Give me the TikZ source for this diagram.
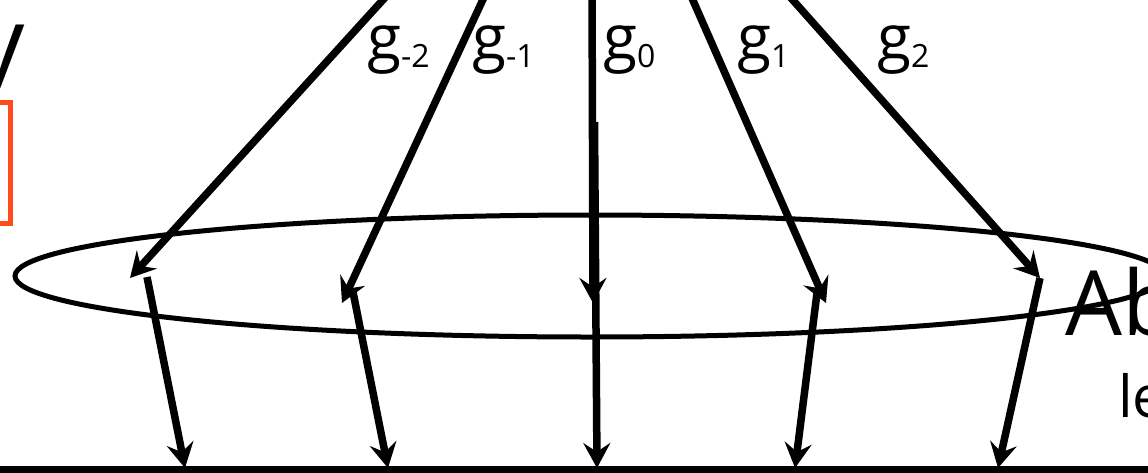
\documentclass[tikz,border=0pt]{standalone}
\usepackage{fontspec}
\setmainfont{Open Sans}
\usetikzlibrary{arrows.meta}
\definecolor{boxorange}{HTML}{FF4A1C}
\newcommand{\gsub}[1]{g{\fontsize{32}{32}\selectfont\raisebox{-8pt}{#1}}}

\begin{document}
\begin{tikzpicture}[x=1pt, y=-1pt,
    gen/.style={line width=7.5pt, -{Stealth[length=25pt, width=27pt, inset=9pt]}},
    lab/.style={anchor=base west, inner sep=0pt, font=\fontsize{62}{62}\selectfont}]
    \useasboundingbox (0,0) rectangle (1148,472);
    \clip (0,0) rectangle (1148,472);
    % sources above the frame, tips on the orbit, feet on the base line
    \coordinate (srcm2) at (401,-20); \coordinate (srcm1) at (492,-20); \coordinate (srcz) at (592,-20);
    \coordinate (srcp1) at (684,-20); \coordinate (srcp2) at (775,-20);
    \coordinate (tipm2) at (130,278); \coordinate (tipm1) at (342,303); \coordinate (tipz) at (593,303);
    \coordinate (tipp1) at (826,303); \coordinate (tipp2) at (1040,278);
    \coordinate (orbm2) at (147,277); \coordinate (orbm1) at (353,292); \coordinate (orbz) at (594.5,122);
    \coordinate (orbp1) at (817,293); \coordinate (orbp2) at (1040,278);
    \coordinate (footm2) at (185,468); \coordinate (footm1) at (388,468); \coordinate (footz) at (597,468);
    \coordinate (footp1) at (795,468); \coordinate (footp2) at (998,468);
    \coordinate (baseL) at (0,470); \coordinate (baseR) at (1160,470);
    % partial letter and box at the left edge
    \node[anchor=base east, inner sep=0pt, font=\fontsize{100}{100}\selectfont] (lettery) at (25,78) {y};
    \draw[line width=5pt, boxorange] (-50,102.5) rectangle (10.5,223);
    % orbit
    \draw[line width=5pt] (590,276) ellipse [x radius=575, y radius=61];
    \draw[line width=8pt] (baseL) -- (baseR);
    \foreach \i in {m2,m1,z,p1,p2} {
        \draw[gen] (src\i) -- (tip\i);
        \draw[gen] (orb\i) -- (foot\i);
    }
    \node[lab] (gm2) at (367,59) {\gsub{-2}};
    \node[lab] (gm1) at (472,59) {\gsub{-1}};
    \node[lab] (gz) at (603,59) {\gsub{0}};
    \node[lab] (gp1) at (737,59) {\gsub{1}};
    \node[lab] (gp2) at (877,59) {\gsub{2}};
    \node[anchor=base west, inner sep=0pt, font=\fontsize{90}{90}\selectfont] (ab) at (1065,335) {Ab};
    \node[anchor=base west, inner sep=0pt, font=\fontsize{58}{58}\selectfont] (le) at (1118,417) {le};
\end{tikzpicture}
\end{document}
